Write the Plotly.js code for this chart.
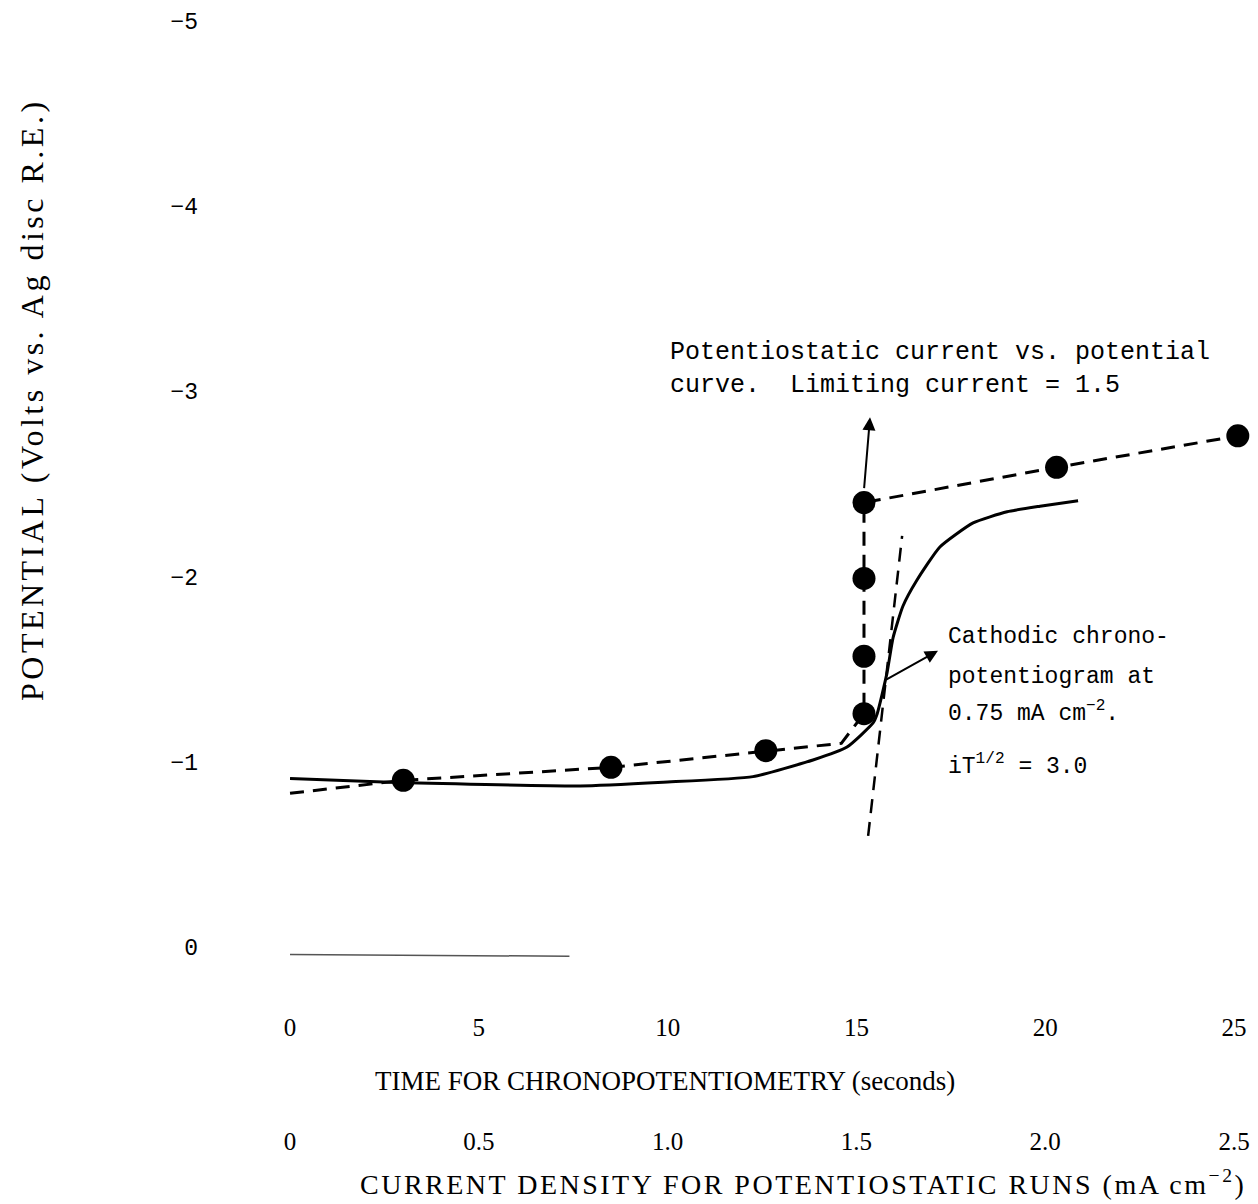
<!DOCTYPE html>
<html>
<head>
<meta charset="utf-8">
<script src="https://cdn.plot.ly/plotly-3.0.1.min.js"></script>
<style>html,body{margin:0;padding:0;background:#fff;}#chart{width:1258px;height:1204px;}</style>
</head>
<body>
<div id="chart"></div>
<script>
// Chronopotentiogram (time in seconds vs potential in volts)
const chronoTime = [0, 2.65, 7.68, 9.88, 12.26, 13.85, 14.75, 15.44, 15.55, 15.81, 15.97, 16.23, 16.60, 17.21, 18.09, 18.99, 19.86, 20.87];
const chronoPotential = [-0.91, -0.89, -0.87, -0.89, -0.92, -1.01, -1.08, -1.21, -1.26, -1.48, -1.67, -1.84, -1.98, -2.16, -2.29, -2.35, -2.38, -2.41];

// Potentiostatic runs (current density mA cm^-2 vs potential)
const pstatCurrent = [0.30, 0.85, 1.26, 1.52, 1.52, 1.52, 1.52, 2.03, 2.51];
const pstatPotential = [-0.90, -0.97, -1.06, -1.26, -1.57, -1.99, -2.40, -2.59, -2.76];

// Hand-drawn dashed curve through the potentiostatic points
const pstatCurveCurrent = [0.0, 0.30, 0.85, 1.26, 1.46, 1.52, 1.52, 1.52, 1.52, 2.03, 2.51];
const pstatCurvePotential = [-0.83, -0.90, -0.97, -1.06, -1.10, -1.26, -1.57, -1.99, -2.40, -2.59, -2.76];

// Dashed tangent line used to find the transition time
const tangentTime = [15.31, 16.21];
const tangentPotential = [-0.60, -2.22];

// Faint baseline trace near 0 V
const baselineTime = [0, 7.4];
const baselinePotential = [0.04, 0.05];

// Ticks
const timeTicks = [0, 5, 10, 15, 20, 25];
const currentTicks = [0, 0.5, 1.0, 1.5, 2.0, 2.5];
const currentTickText = ['0', '0.5', '1.0', '1.5', '2.0', '2.5'];
const potentialTicks = [0, -1, -2, -3, -4, -5];
const potentialTickText = ['0', '\u22121', '\u22122', '\u22123', '\u22124', '\u22125'];

const W = 1258, H = 1204;
const px = x => x / W;
const py = y => 1 - y / H;

const serif = 'Liberation Serif, Times New Roman, serif';
const mono = 'Liberation Mono, Courier New, monospace';

const traces = [
  {x: baselineTime, y: baselinePotential, xaxis: 'x', yaxis: 'y', mode: 'lines',
   line: {color: '#555', width: 1.5}, hoverinfo: 'skip', showlegend: false},
  {x: chronoTime, y: chronoPotential, xaxis: 'x', yaxis: 'y', mode: 'lines',
   line: {color: '#000', width: 3, shape: 'spline', smoothing: 0.5}, showlegend: false},
  {x: tangentTime, y: tangentPotential, xaxis: 'x', yaxis: 'y', mode: 'lines',
   line: {color: '#000', width: 2.5, dash: '14px,9px'}, showlegend: false},
  {x: pstatCurveCurrent, y: pstatCurvePotential, xaxis: 'x2', yaxis: 'y', mode: 'lines',
   line: {color: '#000', width: 3, dash: '14px,9px'}, showlegend: false},
  {x: pstatCurrent, y: pstatPotential, xaxis: 'x2', yaxis: 'y', mode: 'markers',
   marker: {color: '#000', size: 23}, cliponaxis: false, showlegend: false}
];

const annotations = [
  // y-axis title
  {text: '<span style="letter-spacing:3.5px">POTENTIAL (Volts vs. Ag disc R.E.)</span>', xref: 'paper', yref: 'paper',
   x: px(32), y: py(400), textangle: -90, showarrow: false, xanchor: 'center', yanchor: 'middle',
   font: {family: serif, size: 32, color: '#000'}},
  // x-axis titles
  {text: 'TIME FOR CHRONOPOTENTIOMETRY (seconds)', xref: 'paper', yref: 'paper',
   x: px(665), y: py(1081), showarrow: false, xanchor: 'center', yanchor: 'middle',
   font: {family: serif, size: 27, color: '#000'}},
  {text: '<span style="letter-spacing:2.5px">CURRENT DENSITY FOR POTENTIOSTATIC RUNS (mA cm<sup>\u22122</sup>)</span>', xref: 'paper', yref: 'paper',
   x: px(803), y: py(1182), showarrow: false, xanchor: 'center', yanchor: 'middle',
   font: {family: serif, size: 28, color: '#000'}},
  // Potentiostatic label
  {text: 'Potentiostatic current vs. potential', xref: 'paper', yref: 'paper',
   x: px(668), y: py(352), showarrow: false, xanchor: 'left', yanchor: 'middle',
   font: {family: mono, size: 25, color: '#000'}},
  {text: 'curve.  Limiting current = 1.5', xref: 'paper', yref: 'paper',
   x: px(668), y: py(385), showarrow: false, xanchor: 'left', yanchor: 'middle',
   font: {family: mono, size: 25, color: '#000'}},
  // Cathodic label
  {text: 'Cathodic chrono-', xref: 'paper', yref: 'paper',
   x: px(946), y: py(637), showarrow: false, xanchor: 'left', yanchor: 'middle',
   font: {family: mono, size: 23, color: '#000'}},
  {text: 'potentiogram at', xref: 'paper', yref: 'paper',
   x: px(946), y: py(677), showarrow: false, xanchor: 'left', yanchor: 'middle',
   font: {family: mono, size: 23, color: '#000'}},
  {text: '0.75 mA cm<sup>\u22122</sup>.', xref: 'paper', yref: 'paper',
   x: px(946), y: py(712), showarrow: false, xanchor: 'left', yanchor: 'middle',
   font: {family: mono, size: 23, color: '#000'}},
  {text: 'iT<sup>1/2</sup> = 3.0', xref: 'paper', yref: 'paper',
   x: px(946), y: py(765), showarrow: false, xanchor: 'left', yanchor: 'middle',
   font: {family: mono, size: 23, color: '#000'}},
  // Arrow on the vertical potentiostatic branch
  {xref: 'x2', yref: 'y', axref: 'x2', ayref: 'y', x: 1.536, y: -2.86, ax: 1.52, ay: -2.47,
   text: '', showarrow: true, arrowhead: 2, arrowsize: 1.3, arrowwidth: 2, arrowcolor: '#000'},
  // Arrow pointing to the chronopotentiogram label
  {xref: 'x', yref: 'y', axref: 'x', ayref: 'y', x: 17.16, y: -1.60, ax: 15.76, ay: -1.44,
   text: '', showarrow: true, arrowhead: 2, arrowsize: 1.3, arrowwidth: 2, arrowcolor: '#000'}
];

const xDomain = [278.7 / W, 1256.7 / W];

const layout = {
  width: W, height: H,
  margin: {l: 0, r: 0, t: 0, b: 0},
  paper_bgcolor: '#fff', plot_bgcolor: '#fff',
  showlegend: false,
  xaxis: {
    domain: xDomain, range: [-0.3, 25.6], anchor: 'free', position: py(1010),
    tickvals: timeTicks, ticktext: timeTicks.map(String), ticks: '',
    showgrid: false, zeroline: false, showline: false,
    tickfont: {family: serif, size: 25, color: '#000'}
  },
  xaxis2: {
    domain: xDomain, range: [-0.03, 2.56], overlaying: 'x', anchor: 'free', position: py(1124), side: 'bottom',
    tickvals: currentTicks, ticktext: currentTickText, ticks: '',
    showgrid: false, zeroline: false, showline: false,
    tickfont: {family: serif, size: 25, color: '#000'}
  },
  yaxis: {
    domain: [1 - 974.8 / H, 1 - 2.48 / H], range: [0.15, -5.1], anchor: 'free', position: px(198),
    tickvals: potentialTicks, ticktext: potentialTickText, ticks: '',
    showgrid: false, zeroline: false, showline: false,
    tickfont: {family: mono, size: 23, color: '#000'}
  },
  annotations: annotations
};

Plotly.newPlot('chart', traces, layout, {displayModeBar: false, staticPlot: true});
</script>
</body>
</html>
